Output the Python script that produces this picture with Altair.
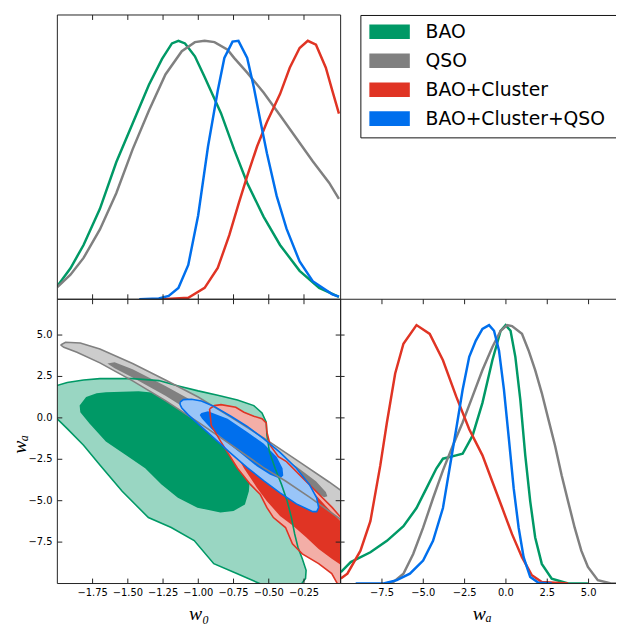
import altair as alt
import pandas as pd

# ---------------- data ----------------
LABELS = ["BAO", "QSO", "BAO+Cluster", "BAO+Cluster+QSO"]
LEG_ROW = [0, 1, 2, 3]
DARK = ["#009966", "#808080", "#E03424", "#006FED"]
LIGHT = ["#99D6C2", "#CCCCCC", "#F3AEA7", "#99C5F8"]

W0_TICKS = [-1.75, -1.5, -1.25, -1.0, -0.75, -0.5, -0.25]
W0_TICK_LABELS = ["−1.75", "−1.50", "−1.25", "−1.00", "−0.75", "−0.50", "−0.25"]
WA_TICKS = [-7.5, -5.0, -2.5, 0.0, 2.5, 5.0]
WA_TICK_LABELS = ["−7.5", "−5.0", "−2.5", "0.0", "2.5", "5.0"]
W0_RANGE = [-2.0, 0.01]
WA_RANGE = [-10.0, 7.16]
WA_RANGE_1D = [-10.0, 6.66]
P_RANGE = [0.0, 1.1]
LEG_RANGE = [-0.58, 9.24]
LEG_BOX = [-0.563, 3.665]

# 1D marginal of w0
BAO_W0_X = [-2.0, -1.907, -1.814, -1.698, -1.582, -1.466, -1.350, -1.257, -1.187, -1.141, -1.094,
            -1.024, -0.955, -0.839, -0.746, -0.653, -0.537, -0.420, -0.281, -0.142, -0.002]
BAO_W0_P = [0.051, 0.12, 0.21, 0.35, 0.53, 0.68, 0.83, 0.93, 0.99, 1.0, 0.99,
            0.94, 0.86, 0.72, 0.58, 0.45, 0.32, 0.21, 0.11, 0.044, 0.009]
QSO_W0_X = [-2.0, -1.907, -1.814, -1.698, -1.582, -1.466, -1.350, -1.233, -1.117, -1.024, -0.955,
            -0.885, -0.792, -0.746, -0.653, -0.537, -0.420, -0.304, -0.188, -0.072, -0.002]
QSO_W0_P = [0.047, 0.095, 0.16, 0.27, 0.41, 0.58, 0.73, 0.87, 0.96, 0.995, 1.0,
            0.995, 0.966, 0.934, 0.877, 0.80, 0.712, 0.623, 0.534, 0.451, 0.388]
CL_W0_X = [-1.257, -1.071, -0.955, -0.862, -0.780, -0.711, -0.653, -0.583, -0.513, -0.420, -0.351,
           -0.281, -0.223, -0.165, -0.095, -0.049, -0.002]
CL_W0_P = [0.0, 0.006, 0.044, 0.121, 0.248, 0.375, 0.476, 0.591, 0.686, 0.794, 0.896,
           0.972, 1.0, 0.985, 0.896, 0.807, 0.718]
ALL_W0_X = [-1.419, -1.280, -1.210, -1.141, -1.071, -1.001, -0.931, -0.862, -0.815, -0.757, -0.715,
            -0.653, -0.606, -0.560, -0.513, -0.444, -0.374, -0.281, -0.188, -0.049, -0.002]
ALL_W0_P = [0.0, 0.003, 0.013, 0.044, 0.133, 0.324, 0.591, 0.807, 0.934, 0.997, 1.0,
            0.934, 0.82, 0.692, 0.565, 0.40, 0.273, 0.146, 0.07, 0.019, 0.01]

# 1D marginal of wa
BAO_WA_X = [-9.99, -9.39, -8.20, -7.20, -6.20, -5.41, -4.81, -4.21, -3.81, -3.01, -2.62, -2.02, -1.42,
            -0.82, -0.32, -0.02, 0.28, 0.57, 0.87, 1.17, 1.47, 1.77, 2.17, 2.77, 3.76, 4.96]
BAO_WA_P = [0.044, 0.083, 0.121, 0.165, 0.222, 0.292, 0.368, 0.445, 0.483, 0.496, 0.502, 0.572, 0.699,
            0.864, 0.978, 1.0, 0.978, 0.877, 0.712, 0.496, 0.318, 0.178, 0.076, 0.019, 0.0, 0.0]
QSO_WA_X = [-7.30, -6.80, -6.20, -5.61, -5.01, -4.41, -3.81, -3.21, -2.62, -2.02, -1.42, -0.82, -0.32,
            0.08, 0.37, 0.97, 1.37, 1.77, 2.17, 2.57, 2.97, 3.37, 3.76, 4.16, 4.56, 4.96, 5.56,
            6.36, 6.85]
QSO_WA_P = [0.0, 0.006, 0.038, 0.114, 0.216, 0.330, 0.438, 0.534, 0.623, 0.724, 0.826, 0.915, 0.978,
            1.0, 0.996, 0.966, 0.902, 0.826, 0.737, 0.635, 0.534, 0.419, 0.318, 0.216, 0.127, 0.064,
            0.013, 0.0, 0.0]
CL_WA_X = [-9.99, -9.59, -8.80, -8.20, -7.60, -7.20, -6.70, -6.20, -5.41, -4.61, -3.81, -3.01, -2.22,
           -1.42, -0.82, -0.22, 0.37, 0.97, 1.57, 2.17, 3.76]
CL_WA_P = [0.019, 0.038, 0.127, 0.241, 0.457, 0.623, 0.813, 0.928, 1.0, 0.966, 0.864, 0.724, 0.597,
           0.496, 0.394, 0.292, 0.191, 0.102, 0.032, 0.006, 0.0]
ALL_WA_X = [-9.09, -7.40, -6.60, -5.81, -5.01, -4.41, -3.81, -3.41, -3.01, -2.62, -2.22, -1.82, -1.42,
            -1.02, -0.72, -0.42, -0.12, 0.18, 0.47, 0.77, 1.07, 1.47, 1.97, 2.77]
ALL_WA_P = [0.0, 0.0, 0.013, 0.038, 0.089, 0.165, 0.292, 0.445, 0.597, 0.750, 0.877, 0.940, 0.985,
            1.0, 0.978, 0.902, 0.750, 0.559, 0.368, 0.216, 0.102, 0.025, 0.003, 0.0]

# 2D contours (w0, wa): outer = 95%, inner = 68%
BAO_OUT_W0 = [-2.05, -2.012, -1.930, -1.814, -1.698, -1.466, -1.280, -1.141, -1.001, -0.862, -0.722,
              -0.606, -0.548, -0.518, -0.513, -0.495, -0.455, -0.409, -0.369, -0.339, -0.316, -0.293,
              -0.262, -0.235, -0.239, -0.269, -0.293, -0.560, -0.564, -0.727, -0.890, -1.029, -1.192,
              -1.354, -1.540, -1.698, -1.814, -1.930, -2.012, -2.05]
BAO_OUT_WA = [1.93, 1.93, 2.13, 2.29, 2.37, 2.37, 2.25, 1.93, 1.63, 1.37, 1.08,
              0.74, 0.30, -0.26, -1.05, -2.05, -3.04, -4.03, -5.03, -6.02, -7.01, -7.81,
              -8.51, -9.20, -9.70, -10.04, -10.40, -10.40, -10.00, -9.40, -8.80, -7.41, -6.62,
              -6.02, -4.43, -2.84, -1.65, -0.65, 0.04, 0.04]
BAO_IN_W0 = [-1.842, -1.796, -1.721, -1.656, -1.424, -1.238, -1.094, -0.955, -0.815, -0.722, -0.653,
             -0.634, -0.641, -0.669, -0.750, -0.843, -1.006, -1.145, -1.261, -1.377, -1.512, -1.656,
             -1.772, -1.837]
BAO_IN_WA = [0.74, 1.26, 1.49, 1.55, 1.61, 1.45, 0.98, 0.44, -0.35, -1.29, -2.44,
             -3.64, -4.43, -5.23, -5.62, -5.72, -5.42, -4.83, -4.03, -3.04, -2.25, -1.43,
             -0.34, 0.34]
QSO_OUT_W0 = [-1.977, -1.942, -1.837, -1.698, -1.466, -1.233, -1.001, -0.769, -0.537, -0.304, -0.072,
              0.021, 0.021, -0.007, -0.211, -0.381, -0.537, -0.769, -1.001, -1.233, -1.466, -1.698,
              -1.861, -1.954]
QSO_OUT_WA = [4.40, 4.56, 4.52, 4.16, 3.28, 2.29, 1.26, 0.04, -1.21, -2.54, -3.87,
              -4.43, -6.22, -6.02, -4.79, -3.81, -3.00, -1.61, -0.26, 1.04, 2.23, 3.32,
              3.96, 4.26]
QSO_IN_W0 = [-1.645, -1.594, -1.466, -1.233, -1.001, -0.769, -0.537, -0.304, -0.165, -0.095, -0.084,
             -0.107, -0.211, -0.304, -0.537, -0.769, -1.001, -1.233, -1.466, -1.594]
QSO_IN_WA = [3.28, 3.36, 2.93, 1.93, 0.84, -0.35, -1.61, -2.94, -3.83, -4.47, -4.73,
             -4.79, -4.33, -3.83, -2.54, -1.21, 0.10, 1.33, 2.43, 3.00]
CL_OUT_W0 = [-0.920, -0.885, -0.839, -0.734, -0.676, -0.606, -0.548, -0.518, -0.513, -0.490, -0.432,
             -0.374, -0.258, -0.142, -0.049, 0.033, 0.06, 0.06, 0.009, -0.007, -0.053, -0.146,
             -0.262, -0.332, -0.381, -0.467, -0.513, -0.560, -0.629, -0.722, -0.839, -0.908]
CL_OUT_WA = [0.54, 0.74, 0.80, 0.64, 0.34, 0.10, -0.05, -0.30, -0.85, -1.65, -2.34,
             -2.64, -3.64, -4.63, -5.42, -6.22, -6.30, -10.50, -10.30, -10.10, -9.40, -8.80,
             -8.21, -7.61, -6.62, -6.02, -5.42, -4.63, -4.03, -3.04, -1.45, -0.45]
CL_IN_W0 = [-0.862, -0.769, -0.629, -0.490, -0.351, -0.211, -0.095, 0.033, 0.06, 0.06, 0.033,
            -0.053, -0.146, -0.235, -0.328, -0.420, -0.513, -0.583, -0.676, -0.769, -0.839]
CL_IN_WA = [-0.16, -0.26, -1.05, -2.05, -3.14, -4.23, -5.32, -6.46, -6.50, -9.10, -9.00,
            -8.51, -7.91, -7.21, -6.52, -5.92, -5.03, -4.23, -3.04, -1.65, -0.75]
ALL_OUT_W0 = [-1.129, -1.106, -1.048, -0.978, -0.885, -0.769, -0.653, -0.537, -0.420, -0.304, -0.211,
              -0.160, -0.146, -0.160, -0.188, -0.304, -0.420, -0.537, -0.653, -0.769, -0.885, -1.001,
              -1.071, -1.117, -1.129]
ALL_OUT_WA = [0.95, 1.10, 1.12, 1.02, 0.68, 0.10, -0.52, -1.25, -2.08, -3.04, -4.03,
              -4.83, -5.42, -5.66, -5.66, -5.19, -4.53, -3.79, -3.00, -2.14, -1.25, -0.36,
              0.18, 0.60, 0.80]
ALL_IN_W0 = [-0.978, -0.931, -0.792, -0.653, -0.537, -0.444, -0.402, -0.397, -0.420, -0.490, -0.583,
             -0.699, -0.815, -0.908, -0.973, -0.990]
ALL_IN_WA = [0.30, 0.40, -0.06, -0.85, -1.55, -2.34, -3.04, -3.48, -3.68, -3.44, -2.94,
             -2.14, -1.35, -0.65, -0.06, 0.18]

# ---------------- layout / style ----------------
PW, PH = 287, 288      # panel size
PW_R = 279             # right column (cut by the page edge)
INK = "#222222"
LABEL_FONT = dict(font="DejaVu Sans", fontSize=10, color="#000000")
TITLE_FONT = dict(font="Liberation Serif", fontStyle="italic", fontSize=20, color="#000000")

SX_W0 = alt.Scale(domain=W0_RANGE, nice=False, zero=False)
SY_WA = alt.Scale(domain=WA_RANGE, nice=False, zero=False)
SX_WA = alt.Scale(domain=WA_RANGE_1D, nice=False, zero=False)
SY_P = alt.Scale(domain=P_RANGE, nice=False, zero=False)
SY_LEG = alt.Scale(domain=LEG_RANGE, nice=False, zero=False, reverse=True)
ONE = pd.DataFrame({"a": [0]})


def xticks(vals, xs, ys, yv, d):
    # short inward tick marks along a horizontal panel edge
    return alt.Chart(pd.DataFrame({"v": vals})).mark_rule(
        color=INK, strokeWidth=1, y2Offset=d).encode(
        x=alt.X("v:Q", scale=xs, axis=None),
        y=alt.datum(yv, scale=ys, axis=None), y2=alt.datum(yv))


def yticks(vals, xs, ys, xv, d0, d1):
    return alt.Chart(pd.DataFrame({"v": vals})).mark_rule(
        color=INK, strokeWidth=1, xOffset=d0, x2Offset=d1).encode(
        y=alt.Y("v:Q", scale=ys, axis=None),
        x=alt.datum(xv, scale=xs, axis=None), x2=alt.datum(xv))


def hedge(xs, ys, xr, yv):
    return alt.Chart(ONE).mark_rule(color=INK, strokeWidth=1).encode(
        x=alt.datum(xr[0], scale=xs, axis=None), x2=alt.datum(xr[1]),
        y=alt.datum(yv, scale=ys, axis=None))


def vedge(xs, ys, xv, yr):
    return alt.Chart(ONE).mark_rule(color=INK, strokeWidth=1).encode(
        x=alt.datum(xv, scale=xs, axis=None),
        y=alt.datum(yr[0], scale=ys, axis=None), y2=alt.datum(yr[1]))


def xlabels(vals, labs, xs, ys, yv):
    df = pd.DataFrame({"v": vals, "lab": labs})
    return alt.Chart(df).mark_text(align="center", baseline="top", dy=5, **LABEL_FONT).encode(
        x=alt.X("v:Q", scale=xs, axis=None),
        y=alt.datum(yv, scale=ys, axis=None),
        text="lab:N")


def ylabels(vals, labs, xs, ys, xv):
    df = pd.DataFrame({"v": vals, "lab": labs})
    return alt.Chart(df).mark_text(align="right", baseline="middle", dx=-5, **LABEL_FONT).encode(
        y=alt.Y("v:Q", scale=ys, axis=None),
        x=alt.datum(xv, scale=xs, axis=None),
        text="lab:N")


def xtitle(text, xs, ys, xv, yv):
    return alt.Chart(ONE).mark_text(text=text, align="center", baseline="alphabetic", dy=37,
                                    **TITLE_FONT).encode(
        x=alt.datum(xv, scale=xs, axis=None), y=alt.datum(yv, scale=ys, axis=None))


def ytitle(text, xs, ys, xv, yv):
    return alt.Chart(ONE).mark_text(text=text, align="center", baseline="middle", angle=270,
                                    **TITLE_FONT).encode(
        x=alt.datum(xv, scale=xs, axis=None), y=alt.datum(yv, scale=ys, axis=None))


def curve(xv, pv, color, xscale):
    df = pd.DataFrame({"x": xv, "p": pv})
    return alt.Chart(df).mark_line(color=color, strokeWidth=2.5, clip=True).encode(
        x=alt.X("x:Q", scale=xscale, axis=None),
        y=alt.Y("p:Q", scale=SY_P, axis=None))


def poly_df(w0, wa, close):
    xs = list(w0) + ([w0[0]] if close else [])
    ys = list(wa) + ([wa[0]] if close else [])
    return pd.DataFrame({"w0": xs, "wa": ys, "i": list(range(len(xs)))})


def fill(w0, wa, color):
    return alt.Chart(poly_df(w0, wa, False)).mark_line(
        fill=color, stroke=color, strokeWidth=0, clip=True).encode(
        x=alt.X("w0:Q", scale=SX_W0, axis=None),
        y=alt.Y("wa:Q", scale=SY_WA, axis=None),
        order=alt.Order("i:Q"))


def outline(w0, wa, color):
    return alt.Chart(poly_df(w0, wa, True)).mark_line(
        stroke=color, strokeWidth=1.6, clip=True).encode(
        x=alt.X("w0:Q", scale=SX_W0, axis=None),
        y=alt.Y("wa:Q", scale=SY_WA, axis=None),
        order=alt.Order("i:Q"))


# ---- top-left: w0 marginals ----
TL = alt.layer(
    curve(BAO_W0_X, BAO_W0_P, DARK[0], SX_W0),
    curve(QSO_W0_X, QSO_W0_P, DARK[1], SX_W0),
    curve(CL_W0_X, CL_W0_P, DARK[2], SX_W0),
    curve(ALL_W0_X, ALL_W0_P, DARK[3], SX_W0),
    xticks(W0_TICKS, SX_W0, SY_P, P_RANGE[0], -5),
    xticks(W0_TICKS, SX_W0, SY_P, P_RANGE[1], 5),
    hedge(SX_W0, SY_P, W0_RANGE, P_RANGE[0]),
    hedge(SX_W0, SY_P, W0_RANGE, P_RANGE[1]),
    vedge(SX_W0, SY_P, W0_RANGE[0], P_RANGE),
    vedge(SX_W0, SY_P, W0_RANGE[1], P_RANGE),
).properties(width=PW, height=PH)

# ---- legend cell ----
leg_df = pd.DataFrame({"label": LABELS, "row": LEG_ROW, "color": DARK})
box_top = alt.Chart(ONE).mark_rule(color="#111111", strokeWidth=1).encode(
    x=alt.value(20.5), x2=alt.value(PW_R),
    y=alt.datum(LEG_BOX[0], scale=SY_LEG, axis=None))
box_bottom = alt.Chart(ONE).mark_rule(color="#111111", strokeWidth=1).encode(
    x=alt.value(20.5), x2=alt.value(PW_R),
    y=alt.datum(LEG_BOX[1], scale=SY_LEG, axis=None))
box_left = alt.Chart(ONE).mark_rule(color="#111111", strokeWidth=1).encode(
    x=alt.value(20.5),
    y=alt.datum(LEG_BOX[0], scale=SY_LEG, axis=None), y2=alt.datum(LEG_BOX[1]))
sym = alt.Chart(leg_df).mark_point(
    shape="M-1,-0.36L1,-0.36L1,0.36L-1,0.36Z", size=1681, filled=True, opacity=1,
    strokeWidth=0).encode(
    x=alt.value(49.6),
    y=alt.Y("row:Q", scale=SY_LEG, axis=None),
    color=alt.Color("color:N", scale=None, legend=None))
txt = alt.Chart(leg_df).mark_text(
    align="left", baseline="middle", fontSize=19, font="DejaVu Sans", color="#000000").encode(
    x=alt.value(86),
    y=alt.Y("row:Q", scale=SY_LEG, axis=None),
    text="label:N")
LEG = alt.layer(box_top, box_bottom, box_left, sym, txt).properties(width=PW_R, height=PH)

# ---- bottom-left: 2D contours ----
BL = alt.layer(
    fill(BAO_OUT_W0, BAO_OUT_WA, LIGHT[0]),
    fill(BAO_IN_W0, BAO_IN_WA, DARK[0]),
    fill(QSO_OUT_W0, QSO_OUT_WA, LIGHT[1]),
    fill(QSO_IN_W0, QSO_IN_WA, DARK[1]),
    fill(CL_OUT_W0, CL_OUT_WA, LIGHT[2]),
    fill(CL_IN_W0, CL_IN_WA, DARK[2]),
    fill(ALL_OUT_W0, ALL_OUT_WA, LIGHT[3]),
    fill(ALL_IN_W0, ALL_IN_WA, DARK[3]),
    outline(BAO_OUT_W0, BAO_OUT_WA, DARK[0]),
    outline(QSO_OUT_W0, QSO_OUT_WA, DARK[1]),
    outline(CL_OUT_W0, CL_OUT_WA, DARK[2]),
    outline(ALL_OUT_W0, ALL_OUT_WA, DARK[3]),
    xticks(W0_TICKS, SX_W0, SY_WA, WA_RANGE[0], -5),
    xticks(W0_TICKS, SX_W0, SY_WA, WA_RANGE[1], 5),
    yticks(WA_TICKS, SX_W0, SY_WA, W0_RANGE[0], 0, 5),
    yticks(WA_TICKS, SX_W0, SY_WA, W0_RANGE[1], -5, 4),
    hedge(SX_W0, SY_WA, W0_RANGE, WA_RANGE[0]),
    hedge(SX_W0, SY_WA, W0_RANGE, WA_RANGE[1]),
    vedge(SX_W0, SY_WA, W0_RANGE[0], WA_RANGE),
    vedge(SX_W0, SY_WA, W0_RANGE[1], WA_RANGE),
    xlabels(W0_TICKS, W0_TICK_LABELS, SX_W0, SY_WA, WA_RANGE[0]),
    ylabels(WA_TICKS, WA_TICK_LABELS, SX_W0, SY_WA, W0_RANGE[0]),
    xtitle("w₀", SX_W0, SY_WA, -0.995, WA_RANGE[0]),
    ytitle("wₐ", SX_W0, SY_WA, -2.264, -1.6),
).properties(width=PW, height=PH)

# ---- bottom-right: wa marginals ----
BR = alt.layer(
    curve(BAO_WA_X, BAO_WA_P, DARK[0], SX_WA),
    curve(QSO_WA_X, QSO_WA_P, DARK[1], SX_WA),
    curve(CL_WA_X, CL_WA_P, DARK[2], SX_WA),
    curve(ALL_WA_X, ALL_WA_P, DARK[3], SX_WA),
    xticks(WA_TICKS, SX_WA, SY_P, P_RANGE[0], -5),
    xticks(WA_TICKS, SX_WA, SY_P, P_RANGE[1], 5),
    hedge(SX_WA, SY_P, WA_RANGE_1D, P_RANGE[0]),
    hedge(SX_WA, SY_P, WA_RANGE_1D, P_RANGE[1]),
    vedge(SX_WA, SY_P, WA_RANGE_1D[0], P_RANGE),
    xlabels(WA_TICKS, WA_TICK_LABELS, SX_WA, SY_P, P_RANGE[0]),
    xtitle("wₐ", SX_WA, SY_P, -1.43, P_RANGE[0]),
).properties(width=PW_R, height=PH)

chart = alt.concat(TL, LEG, BL, BR, columns=2, spacing=0, bounds="flush").properties(
    padding={"left": 1, "top": 2, "right": 0, "bottom": 0},
    background="white",
).configure_view(stroke="transparent")

chart.save("out.html", embed_options={"renderer": "svg", "actions": False})
